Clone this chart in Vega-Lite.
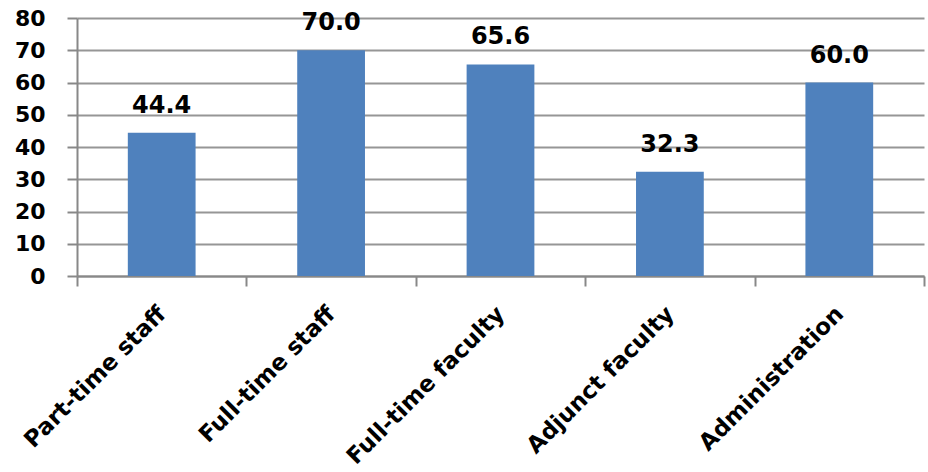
{
  "$schema": "https://vega.github.io/schema/vega-lite/v6.json",
  "autosize": {"type": "none"},
  "width": 847,
  "height": 258,
  "padding": {"left": 77, "top": 18, "right": 4, "bottom": 196},
  "background": "white",
  "config": {"view": {"stroke": null}, "font": "DejaVu Sans"},
  "data": {"values": [
    {"group": "Part-time staff", "value": 44.4},
    {"group": "Full-time staff", "value": 70.0},
    {"group": "Full-time faculty", "value": 65.6},
    {"group": "Adjunct faculty", "value": 32.3},
    {"group": "Administration", "value": 60.0}
  ]},
  "encoding": {
    "x": {
      "field": "group", "type": "nominal", "sort": null,
      "scale": {"paddingInner": 0, "paddingOuter": 0},
      "axis": {
        "title": null, "labelAngle": -45, "labelAlign": "right", "labelBaseline": "middle",
        "labelFont": "DejaVu Sans", "labelFontSize": 23, "labelFontWeight": "bold", "labelColor": "black",
        "labelPadding": 24, "tickBand": "extent", "tickSize": 10, "tickColor": "#888888", "tickWidth": 2,
        "domainColor": "#888888", "domainWidth": 2, "labelLimit": 400
      }
    },
    "y": {
      "field": "value", "type": "quantitative",
      "scale": {"domain": [0, 80]},
      "axis": {
        "title": null, "values": [0, 10, 20, 30, 40, 50, 60, 70, 80],
        "labelFont": "DejaVu Sans", "labelFontSize": 22, "labelFontWeight": "bold", "labelColor": "black",
        "labelPadding": 22, "tickSize": 10, "tickColor": "#888888", "tickWidth": 2,
        "domainColor": "#888888", "domainWidth": 2,
        "grid": true, "gridColor": "#969696", "gridWidth": 2
      }
    }
  },
  "layer": [
    {"mark": {"type": "bar", "color": "#4F81BD", "width": {"band": 0.4}}},
    {
      "mark": {"type": "text", "dy": -20, "baseline": "alphabetic", "font": "DejaVu Sans", "fontSize": 24, "fontWeight": "bold", "color": "black"},
      "encoding": {"text": {"field": "value", "type": "quantitative", "format": ".1f"}}
    }
  ]
}
